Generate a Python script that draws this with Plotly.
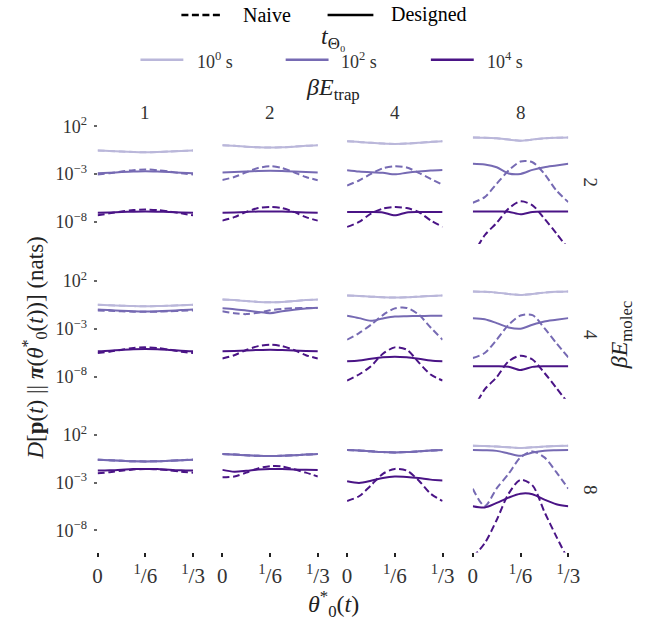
import plotly.graph_objects as go
from plotly.subplots import make_subplots

W, H = 668, 624

# theta_0^*(t) sample points (0 .. 1/3)
THETA = [0, 1/24, 2/24, 3/24, 4/24, 5/24, 6/24, 7/24, 8/24]

# column / row labels
E_TRAP = ["1", "2", "4", "8"]
E_MOLEC = ["2", "4", "8"]
T_LABELS = ["10<sup>0</sup> s", "10<sup>2</sup> s", "10<sup>4</sup> s"]

# log10 of D[p(t)||pi] per row (beta E_molec), per column (beta E_trap)
# ---- row 1 (beta E_molec = 2)
R1_LIGHT_DES = [
    [-0.53, -0.57, -0.63, -0.68, -0.70, -0.68, -0.63, -0.57, -0.53],
    [0.02, -0.03, -0.12, -0.19, -0.22, -0.19, -0.12, -0.03, 0.02],
    [0.44, 0.38, 0.28, 0.20, 0.16, 0.20, 0.28, 0.38, 0.44],
    [0.85, 0.82, 0.75, 0.62, 0.51, 0.62, 0.75, 0.82, 0.85]]
R1_LIGHT_NAI = [
    [-0.53, -0.57, -0.63, -0.68, -0.70, -0.68, -0.63, -0.57, -0.53],
    [0.02, -0.03, -0.12, -0.19, -0.22, -0.19, -0.12, -0.03, 0.02],
    [0.44, 0.38, 0.28, 0.20, 0.16, 0.20, 0.28, 0.38, 0.44],
    [0.85, 0.82, 0.75, 0.62, 0.51, 0.62, 0.75, 0.82, 0.85]]
R1_MED_DES = [
    [-2.90, -2.85, -2.78, -2.72, -2.69, -2.72, -2.78, -2.85, -2.90],
    [-2.83, -2.78, -2.72, -2.67, -2.65, -2.67, -2.72, -2.78, -2.83],
    [-2.58, -2.72, -2.80, -2.85, -3.02, -2.85, -2.72, -2.62, -2.56],
    [-1.92, -1.99, -2.27, -2.92, -2.97, -2.55, -2.27, -2.10, -1.92]]
R1_MED_NAI = [
    [-3.03, -2.90, -2.72, -2.58, -2.50, -2.58, -2.72, -2.90, -3.03],
    [-3.60, -3.30, -2.80, -2.35, -2.17, -2.35, -2.80, -3.30, -3.63],
    [-4.18, -3.66, -2.97, -2.38, -2.17, -2.30, -2.86, -3.49, -4.10],
    [-5.99, -5.40, -4.00, -2.62, -1.68, -1.75, -2.97, -4.70, -5.92]]
R1_DARK_DES = [
    [-7.03, -7.00, -6.96, -6.92, -6.90, -6.92, -6.96, -7.00, -7.03],
    [-7.03, -7.00, -6.95, -6.91, -6.90, -6.91, -6.95, -7.00, -7.03],
    [-6.96, -6.96, -6.96, -7.00, -7.30, -7.00, -6.96, -6.96, -6.96],
    [-6.90, -6.90, -6.90, -6.92, -7.20, -6.95, -6.90, -6.90, -6.90]]
R1_DARK_NAI = [
    [-7.30, -7.10, -6.90, -6.76, -6.70, -6.76, -6.90, -7.10, -7.30],
    [-7.86, -7.50, -6.95, -6.55, -6.44, -6.55, -6.95, -7.50, -7.86],
    [-8.52, -8.00, -7.13, -6.60, -6.44, -6.55, -6.96, -7.83, -8.52],
    [-11.5, -9.39, -8.10, -6.60, -5.85, -6.26, -7.65, -9.20, -10.8]]

# ---- row 2 (beta E_molec = 4)
R2_LIGHT_DES = [
    [-0.48, -0.52, -0.57, -0.61, -0.62, -0.61, -0.57, -0.52, -0.48],
    [0.07, 0.02, -0.08, -0.17, -0.21, -0.17, -0.08, 0.02, 0.07],
    [0.49, 0.45, 0.38, 0.31, 0.28, 0.31, 0.38, 0.45, 0.49],
    [0.91, 0.88, 0.80, 0.66, 0.56, 0.66, 0.80, 0.88, 0.91]]
R2_LIGHT_NAI = [
    [-0.48, -0.52, -0.57, -0.61, -0.62, -0.61, -0.57, -0.52, -0.48],
    [0.07, 0.02, -0.08, -0.17, -0.21, -0.17, -0.08, 0.02, 0.07],
    [0.49, 0.45, 0.38, 0.31, 0.28, 0.31, 0.38, 0.45, 0.49],
    [0.91, 0.88, 0.80, 0.66, 0.56, 0.66, 0.80, 0.88, 0.91]]
R2_MED_DES = [
    [-0.97, -1.02, -1.10, -1.16, -1.18, -1.16, -1.10, -1.02, -0.97],
    [-0.83, -0.93, -1.07, -1.22, -1.35, -1.15, -0.98, -0.85, -0.78],
    [-1.63, -1.87, -2.15, -1.90, -1.70, -1.66, -1.64, -1.63, -1.63],
    [-1.87, -1.98, -2.39, -2.84, -2.98, -2.56, -2.22, -2.05, -1.87]]
R2_MED_NAI = [
    [-1.07, -1.10, -1.15, -1.19, -1.21, -1.19, -1.15, -1.10, -1.07],
    [-1.15, -1.35, -1.45, -1.30, -1.05, -0.90, -0.83, -0.80, -0.82],
    [-4.13, -3.44, -2.57, -1.55, -0.85, -0.80, -1.50, -2.85, -4.13],
    [-6.04, -5.52, -4.13, -2.57, -1.60, -1.55, -2.92, -4.48, -5.97]]
R2_DARK_DES = [
    [-5.34, -5.28, -5.20, -5.13, -5.10, -5.13, -5.20, -5.28, -5.34],
    [-5.34, -5.30, -5.25, -5.20, -5.17, -5.20, -5.25, -5.30, -5.34],
    [-6.39, -6.30, -6.12, -5.97, -5.90, -5.97, -6.12, -6.30, -6.39],
    [-6.90, -6.90, -6.90, -6.95, -7.30, -6.97, -6.90, -6.90, -6.90]]
R2_DARK_NAI = [
    [-5.52, -5.38, -5.17, -5.00, -4.93, -5.00, -5.17, -5.38, -5.52],
    [-6.10, -5.75, -5.20, -4.80, -4.65, -4.80, -5.20, -5.75, -6.10],
    [-8.40, -7.77, -6.90, -5.60, -4.93, -5.17, -6.50, -7.77, -8.40],
    [-11.5, -9.33, -8.05, -6.39, -5.80, -6.20, -7.60, -9.17, -10.8]]

# ---- row 3 (beta E_molec = 8)
R3_LIGHT_DES = [
    [-0.59, -0.64, -0.71, -0.76, -0.77, -0.76, -0.71, -0.64, -0.59],
    [0.00, -0.05, -0.13, -0.19, -0.21, -0.19, -0.13, -0.05, 0.00],
    [0.41, 0.37, 0.28, 0.20, 0.17, 0.20, 0.28, 0.37, 0.41],
    [0.86, 0.84, 0.78, 0.70, 0.62, 0.70, 0.78, 0.84, 0.86]]
R3_LIGHT_NAI = [
    [-0.59, -0.64, -0.71, -0.76, -0.77, -0.76, -0.71, -0.64, -0.59],
    [0.00, -0.05, -0.13, -0.19, -0.21, -0.19, -0.13, -0.05, 0.00],
    [0.41, 0.37, 0.28, 0.20, 0.17, 0.20, 0.28, 0.37, 0.41],
    [0.86, 0.84, 0.78, 0.70, 0.62, 0.70, 0.78, 0.84, 0.86]]
R3_MED_DES = [
    [-0.59, -0.64, -0.71, -0.76, -0.77, -0.76, -0.71, -0.64, -0.59],
    [0.00, -0.05, -0.13, -0.19, -0.21, -0.19, -0.13, -0.05, 0.00],
    [0.41, 0.37, 0.28, 0.20, 0.17, 0.20, 0.28, 0.37, 0.41],
    [0.41, 0.39, 0.33, 0.06, -0.18, 0.15, 0.35, 0.40, 0.43]]
R3_MED_NAI = [
    [-0.59, -0.64, -0.71, -0.76, -0.77, -0.76, -0.71, -0.64, -0.59],
    [0.00, -0.05, -0.13, -0.19, -0.21, -0.19, -0.13, -0.05, 0.00],
    [0.41, 0.37, 0.28, 0.20, 0.17, 0.20, 0.28, 0.37, 0.41],
    [-3.63, -5.45, -3.60, -2.07, -0.35, 0.27, -0.35, -1.90, -3.63]]
R3_DARK_DES = [
    [-1.73, -1.70, -1.64, -1.58, -1.56, -1.58, -1.64, -1.70, -1.73],
    [-1.66, -1.85, -1.76, -1.62, -1.56, -1.58, -1.62, -1.65, -1.66],
    [-2.84, -3.02, -2.80, -2.50, -2.35, -2.40, -2.52, -2.68, -2.77],
    [-5.46, -5.60, -5.12, -4.56, -4.15, -4.20, -4.77, -5.25, -5.46]]
R3_DARK_NAI = [
    [-2.01, -1.90, -1.75, -1.62, -1.56, -1.60, -1.70, -1.85, -1.95],
    [-2.42, -2.35, -1.95, -1.50, -1.28, -1.30, -1.60, -1.95, -2.35],
    [-4.91, -4.42, -3.28, -2.07, -1.56, -1.73, -2.77, -4.15, -4.91],
    [-10.8, -9.33, -6.91, -4.15, -2.70, -3.28, -6.05, -8.64, -11.1]]

COLORS = {"light": "#bab7da", "med": "#766ab3", "dark": "#4a1486"}
SERIES = [
    (1, "light", R1_LIGHT_NAI, R1_LIGHT_DES), (1, "med", R1_MED_NAI, R1_MED_DES),
    (1, "dark", R1_DARK_NAI, R1_DARK_DES),
    (2, "light", R2_LIGHT_NAI, R2_LIGHT_DES), (2, "med", R2_MED_NAI, R2_MED_DES),
    (2, "dark", R2_DARK_NAI, R2_DARK_DES),
    (3, "light", R3_LIGHT_NAI, R3_LIGHT_DES), (3, "med", R3_MED_NAI, R3_MED_DES),
    (3, "dark", R3_DARK_NAI, R3_DARK_DES),
]

SERIF = "Liberation Serif"
SANS = "Liberation Sans Narrow"
DASH = "7px,3.5px"

fig = make_subplots(rows=3, cols=4)

for row, tone, nai, des in SERIES:
    for c in range(4):
        for vals, dash in ((nai[c], DASH), (des[c], "solid")):
            fig.add_trace(go.Scatter(
                x=THETA, y=[10 ** v for v in vals], mode="lines",
                line=dict(color=COLORS[tone], width=2, dash=dash, shape="spline", smoothing=0.8),
                showlegend=False, hoverinfo="skip"), row=row, col=c + 1)

COL_PX = [(95, 193), (223, 321), (351, 449), (480, 578)]
ROW_PX = [(114.4, 242.1), (269.9, 397.6), (424.4, 552.1)]

for r in range(3):
    for c in range(4):
        idx = r * 4 + c + 1
        xa = "xaxis" if idx == 1 else f"xaxis{idx}"
        ya = "yaxis" if idx == 1 else f"yaxis{idx}"
        x0, x1 = COL_PX[c]
        y0, y1 = ROW_PX[r]
        fig.layout[xa].update(
            domain=[x0 / W, x1 / W], range=[0, 1 / 3], showgrid=False, zeroline=False,
            showline=False, tickvals=[0, 1 / 6, 1 / 3],
            ticktext=["0", "<sup>1</sup>/6", "<sup>1</sup>/3"],
            showticklabels=(r == 2), ticks="outside" if r == 2 else "",
            ticklen=4, tickwidth=1.5, tickcolor="#222",
            tickfont=dict(family=SERIF, size=21, color="#333"))
        fig.layout[ya].update(
            domain=[1 - y1 / H, 1 - y0 / H], type="log", range=[-10.3, 3.0],
            showgrid=False, zeroline=False, showline=False,
            tickvals=[1e2, 1e-3, 1e-8],
            ticktext=["10<sup>2</sup>", "10<sup>−3</sup>", "10<sup>−8</sup>"],
            showticklabels=(c == 0), ticks="outside" if c == 0 else "",
            ticklen=3, tickwidth=1.5, tickcolor="#666", ticklabelstandoff=3,
            tickfont=dict(family=SERIF, size=18, color="#333"))

ann = []


def txt(x, y, text, size, angle=0, family=SERIF, xanchor="center", color="#222"):
    ann.append(dict(x=x / W, y=1 - y / H, xref="paper", yref="paper", text=text,
                    showarrow=False, textangle=angle, xanchor=xanchor, yanchor="middle",
                    font=dict(family=family, size=size, color=color)))


# column titles
for c, lab in enumerate(E_TRAP):
    x0, x1 = COL_PX[c]
    txt((x0 + x1) / 2, 110, lab, 19, color="#333")
txt(337, 86, "<i>βE</i><sub>trap</sub>", 24)

# row titles
ROW_MID = [180, 333, 489]
for r, lab in enumerate(E_MOLEC):
    txt(601, ROW_MID[r], lab, 19, angle=90, color="#333")
txt(632, 333, "<i>βE</i><sub>molec</sub>", 24, angle=-90)

# axis titles
txt(30, 347, "<i>D</i>[<b>p</b>(<i>t</i>) || <b><i>π</i></b>(<i>θ</i><sup>*</sup><sub>0</sub>(<i>t</i>))] (nats)",
    23, angle=-90)
txt(337, 604, "<i>θ</i><sup>*</sup><sub>0</sub>(<i>t</i>)", 24)

# t legend
txt(337, 35, "<i>t</i><sub>Θ₀</sub>", 24)
LEG_T = [(139, 183, 195, "light"), (288, 332, 343, "med"), (437, 481, 493, "dark")]
shapes = []
for (a, b, tx, tone), lab in zip(LEG_T, T_LABELS):
    shapes.append(dict(type="line", xref="paper", yref="paper", x0=a / W, x1=b / W,
                       y0=1 - 57 / H, y1=1 - 57 / H, line=dict(color=COLORS[tone], width=2.5)))
    txt(tx, 58, lab, 18, xanchor="left", color="#333")

# style legend
shapes.append(dict(type="line", xref="paper", yref="paper", x0=181 / W, x1=224 / W,
                   y0=1 - 12 / H, y1=1 - 12 / H, line=dict(color="black", width=2.5, dash="7px,3.5px")))
shapes.append(dict(type="line", xref="paper", yref="paper", x0=331 / W, x1=378 / W,
                   y0=1 - 12 / H, y1=1 - 12 / H, line=dict(color="black", width=2.5)))
txt(242, 12, "Naive", 20, family=SANS, xanchor="left", color="black")
txt(394, 12, "Designed", 20, family=SANS, xanchor="left", color="black")

fig.update_layout(width=W, height=H, margin=dict(l=0, r=0, t=0, b=0),
                  paper_bgcolor="white", plot_bgcolor="white",
                  annotations=ann, shapes=shapes, showlegend=False)

fig.write_html("out.html")
